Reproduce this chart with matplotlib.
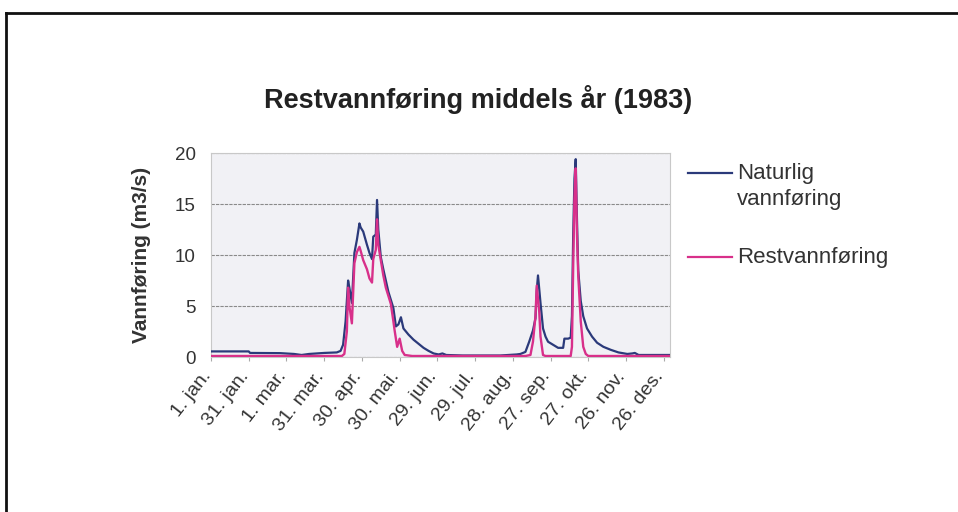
import matplotlib.pyplot as plt
from matplotlib.lines import Line2D
from matplotlib.transforms import ScaledTranslation

plt.rcParams['font.family'] = ['Liberation Sans', 'DejaVu Sans']

# day of year (0 = 1. jan.) and flow in m3/s
nat_days = [0, 30, 31, 55, 66, 72, 78, 90, 100, 103, 105, 107, 109, 110, 112, 114, 116, 118, 119, 121,
            124, 126, 128, 129, 131, 132, 133, 135, 137, 139, 141, 143, 145, 147, 149, 151, 153, 157,
            161, 165, 169, 173, 177, 181, 184, 187, 200, 230, 243, 246, 250, 253, 256, 258, 259, 260,
            262, 264, 266, 268, 272, 276, 280, 281, 284, 286, 287, 288, 289, 290, 291, 292, 294, 296,
            299, 303, 307, 312, 318, 324, 331, 335, 337, 340, 350, 365]
nat_vals = [0.55, 0.55, 0.4, 0.38, 0.3, 0.2, 0.3, 0.4, 0.45, 0.6, 1.2, 3.5, 7.5, 6.8, 5.3, 10.2, 11.5, 13.1,
            12.7, 12.3, 11.0, 10.2, 9.6, 11.8, 12.0, 15.4, 12.5, 9.8, 8.6, 7.5, 6.4, 5.6, 4.8, 3.0, 3.2,
            3.9, 2.8, 2.2, 1.7, 1.3, 0.9, 0.6, 0.35, 0.25, 0.35, 0.2, 0.15, 0.15, 0.25, 0.3, 0.5, 1.5,
            2.6, 3.8, 6.5, 8.0, 5.3, 2.8, 2.0, 1.5, 1.2, 0.9, 0.9, 1.8, 1.8, 1.9, 4.0, 12.0, 17.5, 19.4,
            13.5, 8.5, 5.5, 4.0, 2.8, 2.0, 1.4, 1.0, 0.7, 0.45, 0.3, 0.35, 0.4, 0.2, 0.2, 0.2]

rest_days = [0, 104, 106, 108, 109, 110, 112, 114, 116, 118, 119, 121, 124, 126, 128, 129, 131, 132,
             133, 135, 137, 139, 141, 143, 145, 146, 148, 150, 152, 154, 157, 160, 250, 254, 256, 258,
             259, 261, 262, 264, 266, 286, 287, 288, 289, 290, 291, 292, 294, 296, 298, 300, 365]
rest_vals = [0.1, 0.1, 0.3, 2.5, 6.8, 5.0, 3.3, 9.2, 10.3, 10.8, 10.4, 9.5, 8.6, 7.7, 7.3, 9.6, 10.5,
             13.5, 11.0, 9.5, 8.0, 6.8, 6.0, 5.2, 3.5, 2.6, 1.0, 1.8, 0.6, 0.2, 0.15, 0.1, 0.1, 0.2,
             1.5, 4.0, 7.0, 4.4, 2.0, 0.2, 0.1, 0.1, 1.0, 9.0, 15.5, 18.5, 12.0, 8.0, 3.5, 1.0, 0.3,
             0.1, 0.1]

tick_days = [0, 30, 60, 90, 120, 150, 180, 210, 240, 270, 300, 330, 360]
tick_labels = ['1. jan.', '31. jan.', '1. mar.', '31. mar.', '30. apr.', '30. mai.', '29. jun.',
               '29. jul.', '28. aug.', '27. sep.', '27. okt.', '26. nov.', '26. des.']

BLUE = '#2b3a7a'
PINK = '#d8308a'
TXT = '#333333'

fig = plt.figure(figsize=(9.58, 5.12), dpi=100)
ax = fig.add_axes([0.2203, 0.3027, 0.4791, 0.3984])
ax.set_facecolor('#f1f1f5')

ax.plot(nat_days, nat_vals, color=BLUE, lw=1.6, zorder=3)
ax.plot(rest_days, rest_vals, color=PINK, lw=1.7, zorder=4)

ax.set_xlim(0, 365)
ax.set_ylim(0, 20)
ax.set_yticks([0, 5, 10, 15, 20])
ax.yaxis.grid(True, color='#8a8a8a', lw=0.8, ls=(0, (3, 1)))
ax.set_axisbelow(True)
ax.set_xticks(tick_days)
ax.set_xticklabels([])
ax.tick_params(axis='x', length=3, color='#aaaaaa')
ax.tick_params(axis='y', length=0, labelsize=13.5, pad=11, labelcolor=TXT)
for s in ax.spines.values():
    s.set_color('#c8c8c8')
    s.set_linewidth(0.8)

# rotated category labels, set a bit left of and below each tick
lab_tr = ax.get_xaxis_transform() + ScaledTranslation(-0.10, -0.11, fig.dpi_scale_trans)
for d, lab in zip(tick_days, tick_labels):
    ax.text(d, 0, lab, transform=lab_tr, rotation=52, ha='right', va='top',
            rotation_mode='anchor', fontsize=14, color=TXT, clip_on=False)

ax.set_ylabel('Vannføring (m3/s)', fontsize=15, fontweight='bold', color=TXT, labelpad=17)
fig.text(0.499, 0.805, 'Restvannføring middels år (1983)', ha='center', va='center',
         fontsize=19.5, fontweight='bold', color='#222222')

# legend drawn by hand so the line sits beside the first text line
fig.add_artist(Line2D([688 / 958, 732 / 958], [1 - 173 / 512] * 2, color=BLUE, lw=1.6))
fig.add_artist(Line2D([688 / 958, 732 / 958], [1 - 257 / 512] * 2, color=PINK, lw=1.6))
fig.text(737 / 958, 1 - 173 / 512, 'Naturlig', va='center', fontsize=16, color=TXT)
fig.text(737 / 958, 1 - 200 / 512, 'vannføring', va='center', fontsize=16, color=TXT)
fig.text(737 / 958, 1 - 257 / 512, 'Restvannføring', va='center', fontsize=16, color=TXT)

# scanned frame (top and left edges visible)
fig.add_artist(Line2D([6 / 958, 1.0], [1 - 12.5 / 512] * 2, color='#111111', lw=2))
fig.add_artist(Line2D([6 / 958] * 2, [0.0, 1 - 12.5 / 512], color='#111111', lw=2))

fig.savefig('out.png', dpi=100)
